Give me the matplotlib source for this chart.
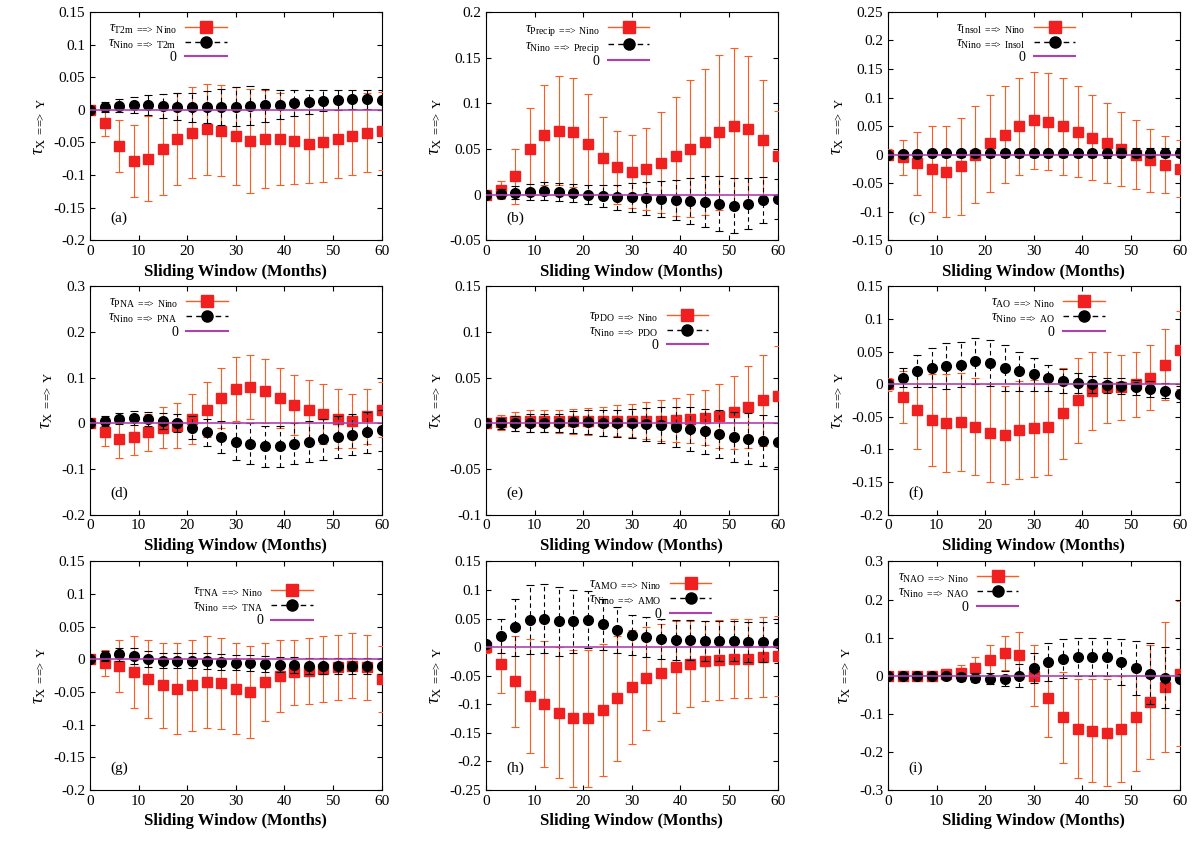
import matplotlib
matplotlib.use("Agg")
import matplotlib.pyplot as plt
import numpy as np
from matplotlib.ticker import FuncFormatter, MultipleLocator
from matplotlib.lines import Line2D

plt.rcParams['font.family'] = ['Liberation Serif', 'DejaVu Serif']
plt.rcParams['mathtext.fontset'] = 'custom'
plt.rcParams['mathtext.rm'] = 'Liberation Serif'
plt.rcParams['mathtext.it'] = 'Liberation Serif:italic'

# sliding window (months), sampled every 3 months
window = np.arange(0, 61, 3)

names = ["T2m", "Precip", "Insol", "PNA", "PDO", "AO", "TNA", "AMO", "NAO"]
panel_tags = ["(a)", "(b)", "(c)", "(d)", "(e)", "(f)", "(g)", "(h)", "(i)"]
ylims = [(-0.2, 0.15), (-0.05, 0.2), (-0.15, 0.25), (-0.2, 0.3), (-0.1, 0.15),
         (-0.2, 0.15), (-0.2, 0.15), (-0.25, 0.15), (-0.3, 0.3)]
ysteps = [0.05, 0.05, 0.05, 0.1, 0.05, 0.05, 0.05, 0.05, 0.1]

# X ==> Nino
x2n_mean = [
    [0, -0.02, -0.055, -0.078, -0.075, -0.06, -0.045, -0.035, -0.03, -0.032, -0.04, -0.048, -0.045, -0.045, -0.048, -0.052, -0.05, -0.045, -0.04, -0.035, -0.032],
    [0, 0.005, 0.02, 0.05, 0.065, 0.07, 0.068, 0.055, 0.04, 0.03, 0.025, 0.028, 0.035, 0.042, 0.05, 0.058, 0.068, 0.075, 0.072, 0.06, 0.042],
    [0, -0.005, -0.015, -0.025, -0.03, -0.02, 0, 0.02, 0.035, 0.05, 0.06, 0.058, 0.05, 0.04, 0.03, 0.02, 0.01, 0, -0.01, -0.018, -0.025],
    [0, -0.02, -0.035, -0.03, -0.02, -0.01, -0.005, 0.01, 0.03, 0.055, 0.075, 0.08, 0.07, 0.055, 0.04, 0.03, 0.02, 0.01, 0.005, 0.015, 0.03],
    [0, 0.001, 0.002, 0.002, 0.002, 0.002, 0.002, 0.002, 0.002, 0.003, 0.003, 0.003, 0.003, 0.004, 0.005, 0.006, 0.008, 0.012, 0.018, 0.025, 0.03],
    [0, -0.02, -0.04, -0.055, -0.06, -0.058, -0.065, -0.075, -0.078, -0.07, -0.068, -0.065, -0.045, -0.025, -0.01, -0.005, -0.005, 0, 0.01, 0.03, 0.052],
    [0, -0.005, -0.01, -0.02, -0.03, -0.04, -0.045, -0.04, -0.035, -0.037, -0.045, -0.05, -0.035, -0.025, -0.02, -0.018, -0.015, -0.012, -0.01, -0.012, -0.03],
    [0, -0.03, -0.06, -0.085, -0.1, -0.115, -0.125, -0.125, -0.11, -0.09, -0.07, -0.055, -0.045, -0.035, -0.03, -0.025, -0.022, -0.02, -0.02, -0.018, -0.015],
    [0, 0, 0, 0, 0.003, 0.008, 0.02, 0.04, 0.06, 0.055, 0.0, -0.06, -0.11, -0.14, -0.145, -0.15, -0.14, -0.11, -0.07, -0.03, 0.005],
]
x2n_err = [
    [0.005, 0.02, 0.04, 0.055, 0.065, 0.07, 0.07, 0.07, 0.07, 0.07, 0.075, 0.08, 0.075, 0.07, 0.065, 0.06, 0.06, 0.06, 0.06, 0.06, 0.06],
    [0.005, 0.01, 0.03, 0.045, 0.055, 0.06, 0.06, 0.055, 0.045, 0.04, 0.04, 0.045, 0.055, 0.065, 0.075, 0.08, 0.085, 0.085, 0.08, 0.065, 0.05],
    [0.01, 0.03, 0.055, 0.075, 0.08, 0.085, 0.085, 0.085, 0.085, 0.085, 0.085, 0.085, 0.085, 0.08, 0.075, 0.07, 0.065, 0.06, 0.055, 0.05, 0.05],
    [0.01, 0.03, 0.04, 0.04, 0.04, 0.045, 0.05, 0.055, 0.06, 0.065, 0.07, 0.07, 0.07, 0.065, 0.065, 0.065, 0.065, 0.065, 0.06, 0.06, 0.06],
    [0.003, 0.008, 0.01, 0.012, 0.012, 0.013, 0.014, 0.015, 0.016, 0.017, 0.018, 0.02, 0.022, 0.024, 0.027, 0.03, 0.035, 0.04, 0.045, 0.05, 0.055],
    [0.01, 0.04, 0.06, 0.07, 0.075, 0.075, 0.075, 0.075, 0.075, 0.075, 0.075, 0.075, 0.07, 0.065, 0.06, 0.055, 0.05, 0.05, 0.05, 0.055, 0.06],
    [0.005, 0.02, 0.04, 0.055, 0.06, 0.065, 0.07, 0.07, 0.07, 0.07, 0.07, 0.07, 0.06, 0.055, 0.05, 0.05, 0.05, 0.05, 0.05, 0.05, 0.05],
    [0.01, 0.05, 0.08, 0.1, 0.11, 0.115, 0.12, 0.12, 0.115, 0.11, 0.1, 0.09, 0.085, 0.08, 0.075, 0.07, 0.07, 0.07, 0.07, 0.07, 0.07],
    [0.005, 0.01, 0.01, 0.012, 0.015, 0.02, 0.03, 0.04, 0.045, 0.06, 0.08, 0.1, 0.12, 0.13, 0.135, 0.14, 0.14, 0.14, 0.15, 0.17, 0.19],
]
# Nino ==> X
n2x_mean = [
    [0, 0.004, 0.006, 0.007, 0.007, 0.006, 0.005, 0.004, 0.004, 0.004, 0.005, 0.006, 0.007, 0.008, 0.01, 0.012, 0.014, 0.015, 0.016, 0.016, 0.015],
    [0, 0.001, 0.002, 0.003, 0.004, 0.003, 0.002, 0, -0.002, -0.003, -0.003, -0.004, -0.005, -0.006, -0.007, -0.008, -0.01, -0.012, -0.01, -0.006, -0.005],
    [0, 0.001, 0.001, 0.002, 0.002, 0.002, 0.002, 0.002, 0.002, 0.002, 0.002, 0.002, 0.002, 0.002, 0.002, 0.002, 0.003, 0.003, 0.003, 0.003, 0.003],
    [0, 0.005, 0.01, 0.012, 0.01, 0.005, 0, -0.01, -0.02, -0.03, -0.04, -0.045, -0.05, -0.05, -0.045, -0.04, -0.035, -0.03, -0.025, -0.02, -0.015],
    [0, 0, 0, 0, 0, 0, 0.001, 0.001, 0, 0, 0, -0.001, -0.002, -0.004, -0.006, -0.009, -0.012, -0.015, -0.017, -0.019, -0.02],
    [0, 0.01, 0.02, 0.025, 0.028, 0.03, 0.035, 0.032, 0.025, 0.02, 0.015, 0.01, 0.005, 0.002, 0, -0.002, -0.003, -0.005, -0.007, -0.01, -0.015],
    [0, 0.005, 0.008, 0.005, 0, -0.002, -0.002, -0.002, -0.003, -0.004, -0.005, -0.006, -0.007, -0.008, -0.009, -0.01, -0.01, -0.01, -0.01, -0.01, -0.01],
    [0.005, 0.02, 0.035, 0.048, 0.05, 0.045, 0.045, 0.048, 0.04, 0.03, 0.022, 0.018, 0.015, 0.013, 0.012, 0.011, 0.01, 0.01, 0.009, 0.009, 0.008],
    [0, 0, 0, 0, -0.002, -0.004, -0.006, -0.008, -0.008, 0, 0.02, 0.035, 0.045, 0.05, 0.05, 0.048, 0.035, 0.02, 0.005, -0.005, -0.01],
]
n2x_err = [
    [0.003, 0.008, 0.01, 0.012, 0.015, 0.018, 0.02, 0.022, 0.025, 0.028, 0.03, 0.03, 0.025, 0.022, 0.02, 0.018, 0.016, 0.015, 0.015, 0.015, 0.015],
    [0.003, 0.005, 0.007, 0.009, 0.01, 0.01, 0.01, 0.01, 0.012, 0.014, 0.016, 0.018, 0.02, 0.022, 0.025, 0.028, 0.03, 0.03, 0.028, 0.025, 0.022],
    [0.003, 0.004, 0.005, 0.005, 0.006, 0.006, 0.006, 0.006, 0.006, 0.006, 0.007, 0.007, 0.007, 0.007, 0.007, 0.008, 0.008, 0.008, 0.008, 0.008, 0.008],
    [0.005, 0.01, 0.012, 0.015, 0.015, 0.018, 0.02, 0.025, 0.03, 0.035, 0.04, 0.045, 0.045, 0.045, 0.045, 0.045, 0.045, 0.045, 0.045, 0.045, 0.045],
    [0.003, 0.006, 0.008, 0.01, 0.01, 0.01, 0.012, 0.013, 0.014, 0.015, 0.016, 0.018, 0.02, 0.022, 0.024, 0.025, 0.026, 0.027, 0.028, 0.028, 0.028],
    [0.005, 0.015, 0.025, 0.03, 0.035, 0.035, 0.035, 0.035, 0.035, 0.03, 0.025, 0.02, 0.018, 0.015, 0.013, 0.012, 0.012, 0.012, 0.012, 0.012, 0.012],
    [0.003, 0.008, 0.01, 0.012, 0.012, 0.012, 0.012, 0.012, 0.012, 0.012, 0.012, 0.012, 0.012, 0.012, 0.012, 0.012, 0.012, 0.012, 0.012, 0.012, 0.012],
    [0.005, 0.03, 0.05, 0.06, 0.06, 0.06, 0.055, 0.05, 0.045, 0.04, 0.035, 0.035, 0.035, 0.035, 0.035, 0.035, 0.035, 0.035, 0.035, 0.035, 0.035],
    [0.003, 0.005, 0.006, 0.007, 0.008, 0.01, 0.012, 0.015, 0.02, 0.03, 0.04, 0.05, 0.05, 0.05, 0.05, 0.05, 0.06, 0.07, 0.08, 0.08, 0.08],
]
legend_pos = [(0.03, 1.0), (0.1, 1.0), (0.2, 1.0), (0.03, 1.0), (0.32, 0.94),
              (0.32, 1.0), (0.32, 0.94), (0.32, 0.97), (0.0, 1.0)]

RED = '#f02020'
ERR_RED = '#ff5a20'
PURPLE = '#b040b0'
ARROW = r'=\!\!=\!\!\!>'


def tick_fmt(v, pos):
    return '%g' % round(v, 6)


fig = plt.figure(figsize=(12, 8.52), dpi=100)
lefts = [0.075, 0.405, 0.74]
bottoms = [0.718, 0.396, 0.073]
w, h = 0.243, 0.268

for i in range(9):
    r, c = divmod(i, 3)
    ax = fig.add_axes([lefts[c], bottoms[r], w, h])
    name = names[i]
    ax.errorbar(window, x2n_mean[i], yerr=x2n_err[i], fmt='s', color=RED, ms=7,
                ecolor=ERR_RED, elinewidth=0.8, capsize=3, capthick=0.8, zorder=3)
    e2 = ax.errorbar(window, n2x_mean[i], yerr=n2x_err[i], fmt='o', color='black', ms=7,
                     ecolor='black', elinewidth=0.8, capsize=3, capthick=0.8, zorder=4)
    for col in e2[2]:
        col.set_linestyle((0, (4, 3)))
    ax.plot(window, np.zeros_like(window, dtype=float), color=PURPLE, lw=1.2, zorder=5)
    ax.set_xlim(0, 60)
    ax.set_ylim(*ylims[i])
    ax.xaxis.set_major_locator(MultipleLocator(10))
    ax.yaxis.set_major_locator(MultipleLocator(ysteps[i]))
    ax.yaxis.set_major_formatter(FuncFormatter(tick_fmt))
    ax.tick_params(direction='in', top=True, right=True, labelsize=11)
    ax.set_xlabel('Sliding Window (Months)', fontsize=12, fontweight='bold')
    ax.set_ylabel(r'$\tau_{\mathrm{X\ %s\ Y}}$' % ARROW, fontsize=13)
    ax.text(0.07, 0.08, panel_tags[i], transform=ax.transAxes, fontsize=11)

    handles = [
        Line2D([], [], color=ERR_RED, marker='s', mfc=RED, mec=RED, ms=8, lw=1),
        Line2D([], [], color='black', marker='o', ms=8, lw=1, ls=(0, (4, 3))),
        Line2D([], [], color=PURPLE, lw=1.5),
    ]
    labels = [r'$\tau_{\mathrm{%s\ %s\ Nino}}$' % (name, ARROW),
              r'$\tau_{\mathrm{Nino\ %s\ %s}}$' % (ARROW, name),
              '0']
    ax.legend(handles, labels, loc='upper left', bbox_to_anchor=legend_pos[i], frameon=False,
              markerfirst=False, fontsize=10, handlelength=3, borderpad=0.2,
              labelspacing=0.05, handletextpad=0.6)

fig.savefig('out.png', dpi=100)
